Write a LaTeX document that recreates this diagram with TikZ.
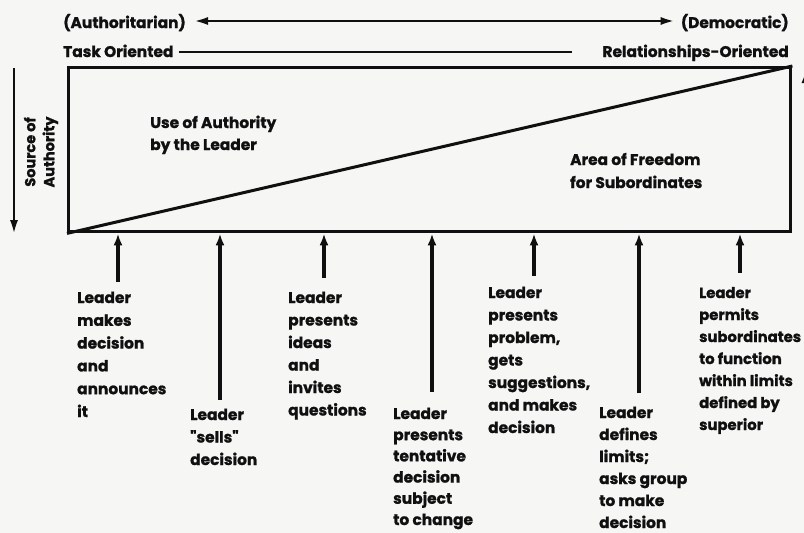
\documentclass[tikz,border=0pt]{standalone}
\usepackage{fontspec}
\setmainfont{Poppins}[Ligatures=TeXOff, BoldFeatures={FakeBold=1.2}]
\usetikzlibrary{arrows.meta}
\definecolor{ink}{HTML}{101010}
\definecolor{paper}{HTML}{F6F6F4}
\newcommand\stk[2][22.3pt]{\vtop{\baselineskip=#1\lineskiplimit=-20pt\halign{##\hfil\cr#2\crcr}}}
\begin{document}
\begin{tikzpicture}[x=1pt,y=-1pt,
  lbl/.style={inner sep=0pt, anchor=base west, text=ink, font=\fontsize{15.4}{22}\selectfont\bfseries},
  upar/.style={draw=ink, line width=3.2pt, -{Latex[length=12pt,width=9pt]}},
  longar/.style={draw=ink, line width=2.9pt}
]
\fill[paper] (0,0) rectangle (804,533);
\useasboundingbox (0,0) rectangle (804,533);

% top labels
\node[lbl] (auth) at (63,28) {(Authoritarian)};
\node[lbl, anchor=base east] (dem) at (789,28) {(Democratic)};
\coordinate (ay) at (0,21);
\draw[longar, {Latex[length=15pt,width=8pt]}-{Latex[length=15pt,width=8pt]}] ([xshift=7pt]auth.east |- ay) -- ([xshift=-5pt]dem.west |- ay);

\node[lbl] (task) at (63,57) {Task Oriented};
\node[lbl, anchor=base east] (rel) at (789,57) {Relationships-Oriented};
\coordinate (tl) at (572,52);
\draw[draw=ink, line width=2.4pt] ([xshift=5pt]task.east |- tl) -- (tl);

% main box
\node[draw=ink, line width=3.4pt, minimum width=722pt, minimum height=164pt, inner sep=0pt, anchor=north west] (box) at (67,66) {};
\draw[draw=ink, line width=3pt] (box.south west) -- (box.north east);

\node[lbl] (use) at (150,128) {\stk[22pt]{Use of Authority\cr by the Leader}};
\node[lbl] (area) at (570,165) {\stk[23pt]{Area of Freedom\cr for Subordinates}};

% source of authority
\coordinate (sa1) at (14,68);
\coordinate (sa2) at (14,235);
\draw[longar, -{Latex[length=15pt,width=8pt]}] (sa1) -- (sa2);
\node[inner sep=0pt, rotate=90, align=center, text=ink, font=\fontsize{14.5}{19}\selectfont\bfseries] (soa) at (41,152) {Source of\\Authority};

% partial right arrow
\coordinate (ra1) at (806,235);
\coordinate (ra2) at (806,68);
\draw[longar, -{Latex[length=15pt,width=9pt]}] (ra1) -- (ra2);

% bottom arrows
\coordinate (a1) at (118,282);
\coordinate (a2) at (220,400);
\coordinate (a3) at (324,278);
\coordinate (a4) at (432,392);
\coordinate (a5) at (534,276);
\coordinate (a6) at (639,393);
\coordinate (a7) at (740,273);
\foreach \i in {1,...,7} {\draw[upar] (a\i) -- (a\i |- box.south);}

% descriptions
\node[lbl] (b1) at (77,303) {\stk[22.8pt]{Leader\cr makes\cr decision\cr and\cr announces\cr it}};
\node[lbl] (b2) at (190,420) {\stk[22.5pt]{Leader\cr "sells"\cr decision}};
\node[lbl] (b3) at (288,303) {\stk[22.5pt]{Leader\cr presents\cr ideas\cr and\cr invites\cr questions}};
\node[lbl] (b4) at (393,419) {\stk[21.2pt]{Leader\cr presents\cr tentative\cr decision\cr subject\cr to change}};
\node[lbl] (b5) at (488,298) {\stk[22.5pt]{Leader\cr presents\cr problem,\cr gets\cr suggestions,\cr and makes\cr decision}};
\node[lbl] (b6) at (599,418) {\stk[22pt]{Leader\cr defines\cr limits;\cr asks group\cr to make\cr decision}};
\node[lbl, font=\fontsize{14.8}{22}\selectfont\bfseries] (b7) at (699,298) {\stk[22pt]{Leader\cr permits\cr subordinates\cr to function\cr within limits\cr defined by\cr superior}};
\end{tikzpicture}
\end{document}
